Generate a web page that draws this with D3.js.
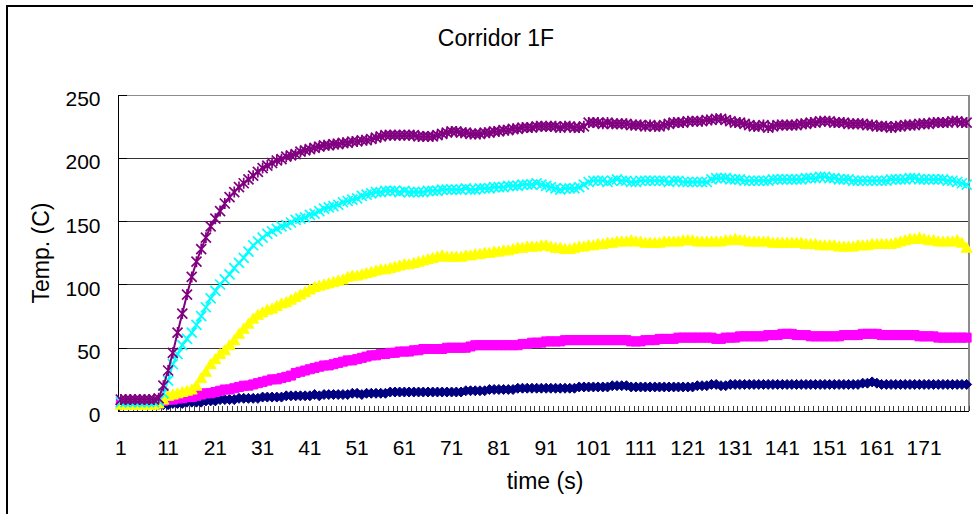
<!DOCTYPE html>
<html>
<head>
<meta charset="utf-8">
<script src="https://cdn.jsdelivr.net/npm/d3@7/dist/d3.min.js"></script>
<style>
html,body{margin:0;padding:0;background:#fff;}
svg{display:block;}
text{font-family:"Liberation Sans",Arial,sans-serif;fill:#000;}
</style>
</head>
<body>
<svg id="chart" width="973" height="514"></svg>
<script>
const categories = d3.range(1, 181);
const xTickLabels = [1,11,21,31,41,51,61,71,81,91,101,111,121,131,141,151,161,171];
const yTickValues = [0,50,100,150,200,250];

const seriesNavy = [
5,5,5,5,5,5,5,5,5,5,
5,6,6,6,7,7,7,7,8,8,
8,9,9,9,9,10,10,10,10,10,
11,11,11,11,11,12,12,12,12,12,
12,13,12,13,13,13,13,13,13,14,
14,13,14,14,14,14,14,15,15,15,
15,15,15,15,15,15,15,15,15,15,
15,15,15,16,16,16,16,16,17,17,
17,17,17,17,18,18,18,18,18,18,
18,18,18,18,18,18,18,19,19,19,
19,19,19,19,20,20,20,20,19,19,
19,19,19,19,19,19,19,19,19,19,
19,19,20,20,20,21,21,20,20,21,
21,21,21,21,21,21,21,21,21,21,
21,21,21,21,21,21,21,21,21,21,
21,21,21,21,21,21,21,22,22,23,
22,21,21,21,21,21,21,21,21,21,
21,21,21,21,21,21,21,21,21,21
];
const seriesMagenta = [
6,6,6,6,6,6,6,6,6,8,
9,9,10,10,11,11,12,13,14,14,
15,16,17,17,18,19,20,20,21,22,
23,24,25,25,26,27,28,30,31,32,
33,34,35,36,36,37,38,39,40,40,
41,42,43,44,44,45,45,46,46,47,
47,47,48,48,49,49,49,49,49,50,
50,50,50,50,51,52,52,52,52,52,
52,52,52,52,52,53,53,54,54,54,
55,55,55,55,56,56,56,56,56,56,
56,56,56,56,56,56,56,56,55,55,
55,56,56,56,57,57,57,57,58,58,
58,58,58,58,58,58,57,57,58,58,
58,59,59,59,59,59,59,60,60,60,
61,61,61,60,60,60,59,59,59,59,
59,59,59,60,60,60,60,61,61,61,
61,60,60,60,60,60,60,60,60,59,
59,59,59,58,58,58,58,58,58,58
];
const seriesYellow = [
5,5,5,5,5,5,5,5,6,9,
12,13,14,15,16,17,20,26,31,37,
41,45,48,52,56,61,65,69,73,76,
78,80,81,83,85,86,88,90,92,94,
96,98,99,100,101,102,103,104,106,107,
107,108,109,110,111,112,112,113,114,115,
116,116,117,118,119,120,121,122,123,122,
122,122,122,123,123,124,124,125,125,126,
126,127,127,128,129,129,130,130,130,131,
131,130,129,129,128,128,129,130,130,131,
131,132,132,133,133,134,134,134,135,134,
134,133,133,133,133,134,134,134,134,135,
135,135,134,134,134,134,134,134,135,135,
136,135,135,134,134,134,134,134,133,133,
133,133,133,133,133,132,132,132,131,131,
131,131,130,130,130,130,131,131,131,132,
132,132,132,132,133,134,135,136,136,137,
136,135,135,134,134,134,134,135,133,129
];
const seriesCyan = [
7,7,7,7,7,7,7,7,8,14,
24,37,45,52,57,62,68,75,82,89,
95,100,104,108,113,117,121,126,131,134,
137,140,142,144,146,147,149,151,152,153,
155,156,158,160,161,162,163,165,166,167,
168,170,171,172,173,173,174,174,174,173,
174,173,173,173,173,174,174,174,175,175,
175,175,175,176,175,175,176,176,176,177,
177,177,178,178,178,179,179,179,180,179,
178,177,176,175,176,176,176,177,179,181,
182,182,182,181,182,183,182,182,181,181,
182,182,182,182,182,182,181,182,182,181,
181,181,181,181,181,183,184,184,184,183,
183,183,182,182,182,182,182,182,183,183,
183,183,183,183,183,184,184,184,185,185,
184,184,183,183,183,182,182,182,182,182,
182,182,182,183,183,183,183,184,184,183,
183,183,183,183,183,182,182,181,180,179
];
const seriesPurple = [
9,9,9,9,9,9,9,9,10,20,
32,46,62,77,92,106,118,128,137,146,
152,158,164,169,173,177,180,183,186,189,
192,194,196,198,199,201,202,203,205,206,
207,208,209,210,210,211,211,212,212,213,
213,214,214,215,216,217,218,218,218,218,
218,218,218,217,217,217,217,218,219,220,
221,221,220,220,219,219,219,220,220,221,
221,222,222,223,223,224,224,224,225,225,
225,225,225,224,225,225,224,224,225,228,
228,228,227,228,227,227,227,227,226,226,
226,225,226,225,225,226,227,228,228,228,
229,229,229,229,230,230,231,231,230,229,
228,228,227,226,225,225,226,224,225,226,
226,226,226,226,227,227,228,228,229,229,
229,228,228,228,227,227,227,227,226,226,
225,225,225,224,225,225,226,226,226,227,
227,227,228,228,228,228,229,229,228,228
];

const seriesColors = ["#000080","#FF00FF","#FFFF00","#00FFFF","#800080"];
const seriesNames = ["navy","magenta","yellow","cyan","purple"];

const svg = d3.select("#chart");
const L = 118.5, R = 969, T = 94.7, B = 411;

const x = d3.scaleBand().domain(categories).range([L, R]).paddingInner(0).paddingOuter(0);
const y = d3.scaleLinear().domain([0, 250]).range([B, T]);
const cx = c => x(c) + x.bandwidth() / 2;

svg.append("rect").attr("x", 7).attr("y", 6).attr("width", 1000).attr("height", 600)
  .attr("fill", "none").attr("stroke", "#000").attr("stroke-width", 2);

svg.append("text").attr("x", 496).attr("y", 46).attr("text-anchor", "middle")
  .attr("font-size", 23).text("Corridor 1F");

const g = svg.append("g").attr("shape-rendering", "crispEdges");
g.selectAll("line.grid").data(yTickValues.filter(v => v > 0 && v < 250)).enter().append("line")
  .attr("x1", L).attr("x2", R).attr("y1", d => Math.round(y(d)) + 0.5).attr("y2", d => Math.round(y(d)) + 0.5)
  .attr("stroke", "#333").attr("stroke-width", 1);
g.append("line").attr("x1", L).attr("x2", R).attr("y1", Math.round(y(250)) + 0.5).attr("y2", Math.round(y(250)) + 0.5)
  .attr("stroke", "#8c8c8c").attr("stroke-width", 1.5);
g.append("line").attr("x1", R).attr("x2", R).attr("y1", y(250)).attr("y2", B)
  .attr("stroke", "#8c8c8c").attr("stroke-width", 1.5);

g.append("line").attr("x1", L).attr("x2", L).attr("y1", y(250)).attr("y2", B + 1)
  .attr("stroke", "#000").attr("stroke-width", 1.5);
g.selectAll("line.ytick").data(yTickValues).enter().append("line")
  .attr("x1", L).attr("x2", L + 8).attr("y1", d => Math.round(y(d)) + 0.5).attr("y2", d => Math.round(y(d)) + 0.5)
  .attr("stroke", "#000").attr("stroke-width", 1);

const bounds = categories.map(c => x(c)).concat([R]);
g.selectAll("line.xtick").data(bounds).enter().append("line")
  .attr("x1", d => Math.round(d) + 0.5).attr("x2", d => Math.round(d) + 0.5)
  .attr("y1", B - 5).attr("y2", B)
  .attr("stroke", "#444").attr("stroke-width", 1);
g.append("line").attr("x1", L).attr("x2", R).attr("y1", Math.round(B) + 0.5).attr("y2", Math.round(B) + 0.5)
  .attr("stroke", "#000").attr("stroke-width", 1.5);

const xAxis = svg.append("g").attr("transform", `translate(0,${B})`)
  .call(d3.axisBottom(x).tickValues(xTickLabels).tickSize(0).tickPadding(29));
xAxis.select(".domain").remove();
xAxis.selectAll("text").attr("font-size", 21).attr("font-family", "Liberation Sans, Arial, sans-serif").attr("fill", "#000");

const yAxis = svg.append("g").attr("transform", `translate(${L},0)`)
  .call(d3.axisLeft(y).tickValues(yTickValues).tickSize(0).tickPadding(18));
yAxis.select(".domain").remove();
yAxis.selectAll("text").attr("font-size", 21).attr("dy", "0.52em").attr("font-family", "Liberation Sans, Arial, sans-serif").attr("fill", "#000");

svg.append("text").attr("x", 545).attr("y", 489).attr("text-anchor", "middle")
  .attr("font-size", 23).text("time (s)");
svg.append("text").attr("transform", "translate(49,253) rotate(-90)").attr("text-anchor", "middle")
  .attr("font-size", 23).text("Temp. (C)");

const allSeries = [seriesNavy, seriesMagenta, seriesYellow, seriesCyan, seriesPurple];
const markerPaths = {
  navy: "M0,-5L5,0L0,5L-5,0Z",
  magenta: "M-4.5,-4.5L4.5,-4.5L4.5,4.5L-4.5,4.5Z",
  yellow: "M0,-5.5L5.5,4.5L-5.5,4.5Z",
  cyan: "M-5,-5L5,5M-5,5L5,-5",
  purple: "M-5,-5L5,5M-5,5L5,-5M0,-5.5L0,5.5"
};
const line = d3.line().x((d, i) => cx(categories[i])).y(d => y(d));

allSeries.forEach((vals, si) => {
  const col = seriesColors[si];
  const name = seriesNames[si];
  const sg = svg.append("g");
  sg.append("path").attr("d", line(vals)).attr("fill", "none").attr("stroke", col).attr("stroke-width", 2);
  const filled = (name === "navy" || name === "magenta" || name === "yellow");
  sg.selectAll("path.m").data(vals).enter().append("path")
    .attr("transform", (d, i) => `translate(${cx(categories[i])},${y(d)})`)
    .attr("d", markerPaths[name])
    .attr("fill", filled ? col : "none")
    .attr("stroke", col)
    .attr("stroke-width", filled ? 1 : 1.7);
});
</script>
</body>
</html>
